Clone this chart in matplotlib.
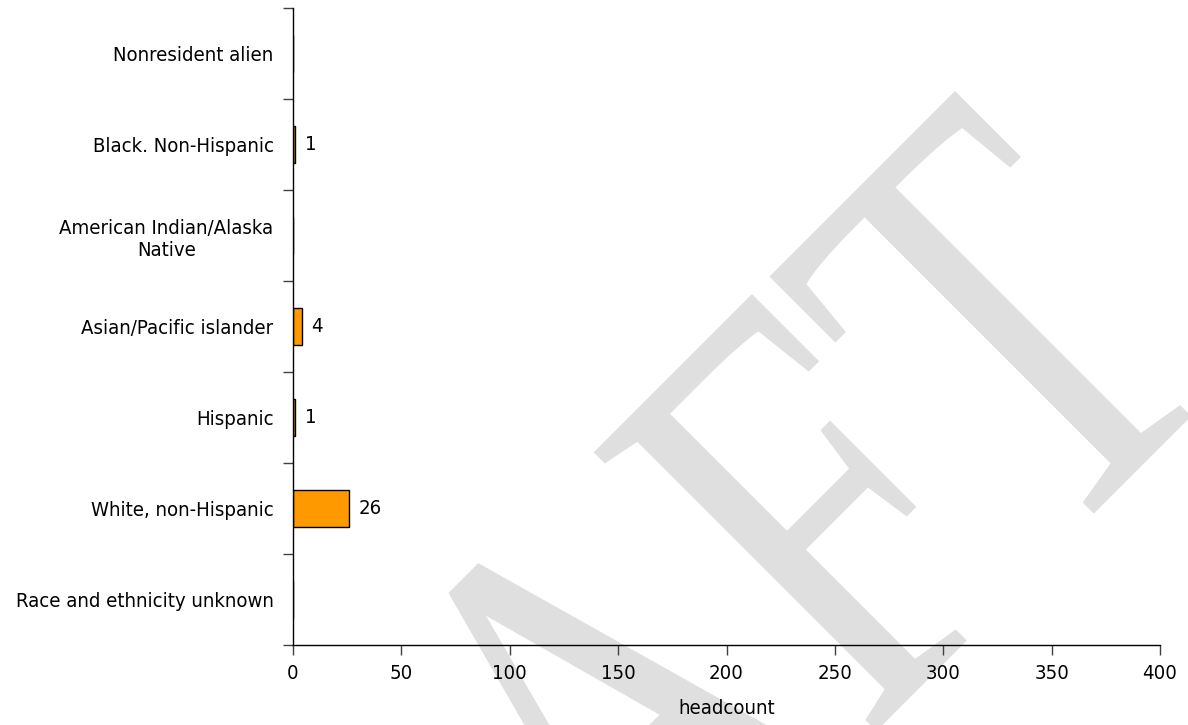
import numpy as np
import matplotlib
matplotlib.use('Agg')
import matplotlib.pyplot as plt
from matplotlib.textpath import TextPath
from matplotlib.font_manager import FontProperties
from matplotlib.patches import PathPatch
from matplotlib.transforms import Affine2D

# data, top to bottom as in the chart
categories = [
    'Nonresident alien',
    'Black. Non-Hispanic',
    'American Indian/Alaska\nNative',
    'Asian/Pacific islander',
    'Hispanic',
    'White, non-Hispanic',
    'Race and ethnicity unknown',
]
headcount = [0, 1, 0, 4, 1, 26, 0]
xticks = [0, 50, 100, 150, 200, 250, 300, 350, 400]

W, H = 1188, 725
FS = 14.6
plt.rcParams['font.family'] = ['DejaVu Sans']
plt.rcParams['font.stretch'] = 'condensed'

fig = plt.figure(figsize=(W / 100, H / 100), dpi=100)
ax = fig.add_axes([293 / W, 80 / H, (1160 - 293) / W, (645 - 8) / H])
ax.set_facecolor('none')

pos = np.arange(len(categories))
ax.barh(pos, headcount, height=0.4, color='#FF9900', edgecolor='black', linewidth=1.0)

# value labels next to non-empty bars
for i, v in enumerate(headcount):
    if v > 0:
        ax.annotate(str(v), (v, i), xytext=(7, 0), textcoords='offset points',
                    va='center', ha='left', fontsize=FS)

ax.set_ylim(len(categories) - 0.5, -0.5)
ax.set_yticks(np.arange(-0.5, len(categories)), labels=[])
ax.set_yticks(pos, labels=categories, minor=True)
for lab in ax.get_yticklabels(minor=True):
    lab.set_multialignment('center')
ax.tick_params(axis='y', which='major', length=7, width=1, color='#404040')
ax.tick_params(axis='y', which='minor', length=0, pad=14, labelsize=FS)

ax.set_xlim(0, 400)
ax.set_xticks(xticks)
ax.tick_params(axis='x', length=7, width=1, color='#404040', pad=7, labelsize=FS)
ax.set_xlabel('headcount', fontsize=FS, labelpad=11)

for side in ['top', 'right']:
    ax.spines[side].set_visible(False)
for side in ['left', 'bottom']:
    ax.spines[side].set_color('black')
    ax.spines[side].set_linewidth(1)

# DRAFT watermark behind the chart, stretched and turned 45 degrees
fp = FontProperties(family='Liberation Serif', stretch='normal')
tp = TextPath((0, 0), 'DRAFT', size=1, prop=fp)
ext_all = tp.get_extents()
ext_draf = TextPath((0, 0), 'DRAF', size=1, prop=fp).get_extents()
ext_f = TextPath((0, 0), 'F', size=1, prop=fp).get_extents()
cap = TextPath((0, 0), 'T', size=1, prop=fp).get_extents().ymax
f_left = ext_draf.xmax - ext_f.width
sx = 511 / (ext_all.xmax - f_left)
sy = 397 / cap
tr = Affine2D().scale(sx, sy).rotate_deg(45)
qx, qy = tr.transform((ext_all.xmax, cap))
tr = tr.translate(955 - qx, (H - 91) - qy)
wm = PathPatch(tp, transform=tr, facecolor='#dfdfdf', edgecolor='none', zorder=-1)
fig.add_artist(wm)

fig.savefig('out.png', dpi=100)
